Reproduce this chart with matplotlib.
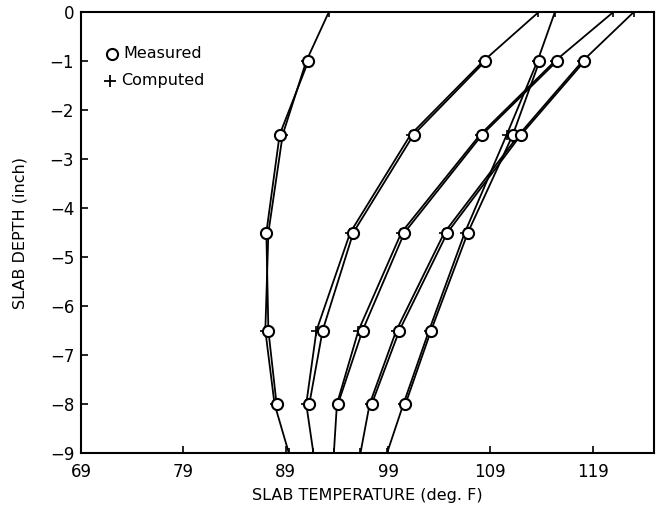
import matplotlib
matplotlib.use('Agg')
import matplotlib.pyplot as plt
import numpy as np

# depths (inch)
meas_depth = [-1, -2.5, -4.5, -6.5, -8]
comp_depth = [0, -1, -2.5, -4.5, -6.5, -8, -9]

# measured slab temperatures (deg F), one list per profile
meas_a = [91.2, 88.4, 87.1, 87.3, 88.1]
meas_b = [108.5, 101.5, 95.6, 92.6, 91.3]
meas_c = [113.8, 111.2, 106.8, 103.2, 100.7]
meas_d = [115.5, 108.2, 100.6, 96.5, 94.1]
meas_e = [118.2, 112.0, 104.8, 100.1, 97.4]

# computed slab temperatures (deg F)
comp_a = [93.2, 91.0, 88.7, 87.3, 87.0, 87.9, 89.3]
comp_b = [113.7, 108.3, 101.2, 95.3, 92.0, 91.0, 91.7]
comp_c = [115.3, 113.6, 110.6, 106.5, 103.0, 100.5, 98.9]
comp_d = [121.0, 115.3, 108.0, 100.3, 96.1, 94.0, 93.7]
comp_e = [123.0, 118.0, 111.8, 104.5, 99.8, 97.2, 96.3]

xticks = [69, 79, 89, 99, 109, 119]
yticks = [0, -1, -2, -3, -4, -5, -6, -7, -8, -9]

fig = plt.figure(figsize=(6.6, 5.09), dpi=100)
ax = fig.add_axes([0.123, 0.110, 0.868, 0.866])

for comp in [comp_a, comp_b, comp_c, comp_d, comp_e]:
    ax.plot(comp, comp_depth, color='black', lw=1.3, marker='+', ms=7, mew=1.2)

for meas in [meas_a, meas_b, meas_c, meas_d, meas_e]:
    ax.plot(meas, meas_depth, color='black', lw=1.3, marker='o', ms=8,
            mfc='white', mec='black', mew=1.5, zorder=3)

ax.set_xlim(69, 125)
ax.set_ylim(-9, 0)
ax.set_xticks(xticks)
ax.set_yticks(yticks)
ax.tick_params(direction='in', length=5, width=1.2, labelsize=12)
ax.tick_params(axis='x', pad=7)
ax.tick_params(axis='y', pad=5)
for s in ax.spines.values():
    s.set_linewidth(1.5)

ax.set_xlabel('SLAB TEMPERATURE (deg. F)', fontsize=11.5, labelpad=5)
ax.set_ylabel('SLAB DEPTH (inch)', fontsize=11.5, labelpad=16)

# legend drawn as markers with text
ax.plot([72.0], [-0.85], marker='o', ms=8, mfc='white', mec='black', mew=1.5, ls='none')
ax.text(73.1, -0.85, 'Measured', fontsize=11.5, va='center')
ax.plot([71.8], [-1.4], marker='+', ms=8, mew=1.3, color='black', ls='none')
ax.text(72.9, -1.4, 'Computed', fontsize=11.5, va='center')

fig.savefig('out.png', dpi=100)
